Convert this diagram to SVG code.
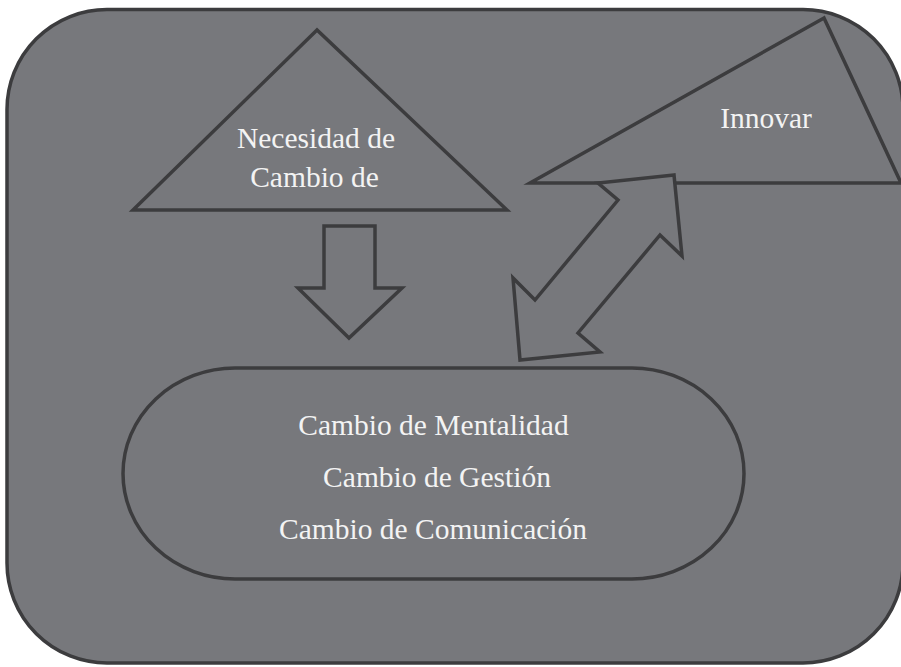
<svg xmlns="http://www.w3.org/2000/svg" width="901" height="667" viewBox="0 0 901 667">
<style>
.shape{fill:#77787c;stroke:#3c3c3e;stroke-width:3.5;stroke-linejoin:miter}
.lbl{font-family:"Liberation Serif","Times New Roman",serif;font-size:29.5px;fill:#f3f3f3;text-anchor:middle}
</style>
<rect width="901" height="667" fill="#ffffff"/>
<g id="frame">
<rect class="shape" x="7" y="9.5" width="896" height="653.5" rx="100" ry="100"/>
</g>
<g id="necesidad">
<polygon class="shape" points="317,30 133,210 507,210"/>
<text class="lbl" x="316" y="148">Necesidad de</text>
<text class="lbl" x="314.5" y="187">Cambio de</text>
</g>
<g id="innovar">
<polygon class="shape" points="824,18 530,183 901,183"/>
<text class="lbl" x="766" y="128">Innovar</text>
</g>
<g id="cambios">
<rect class="shape" x="123" y="368" width="621" height="211" rx="112" ry="105.5"/>
<text class="lbl" x="433.5" y="435">Cambio de Mentalidad</text>
<text class="lbl" x="437" y="487">Cambio de Gestión</text>
<text class="lbl" x="433" y="539">Cambio de Comunicación</text>
</g>
<g id="connectors">
<polygon class="shape" points="324,226 375,226 375,288 402,288 349,338 298,288 324,288"/>
<polygon class="shape" points="674,175 598,183 618,200 535,300 513,278 520,360 600,352 578,333 660,235 682,256"/>
</g>
</svg>
